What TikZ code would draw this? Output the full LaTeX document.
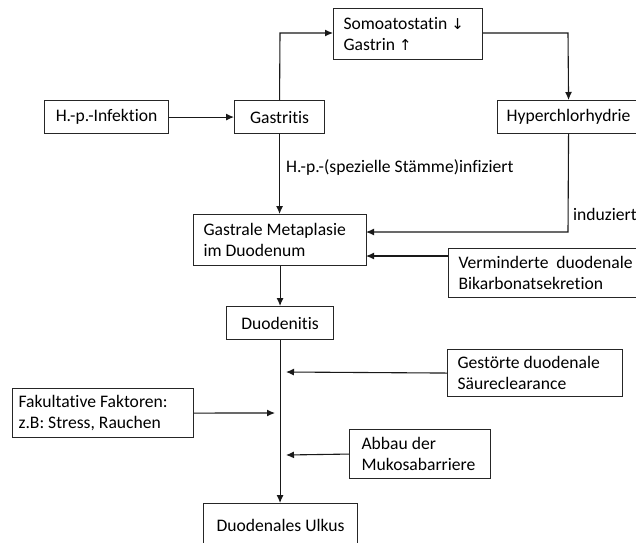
\documentclass[tikz,border=0pt]{standalone}
\usepackage{fontspec}
\setmainfont{Carlito}[Ligatures=NoCommon]
\newfontfamily\symfont{DejaVu Sans}
\usetikzlibrary{arrows.meta}
\tikzset{
  box/.style={draw=black!85, line width=1.1pt, fill=white, inner ysep=0pt,
    font=\fontsize{17.6}{21}\selectfont, anchor=north west},
  lbox/.style={box, align=flush left},
  conn/.style={draw=black!90, line width=1.1pt},
  arr/.style={conn, -{Latex[length=8pt,width=7pt]}},
  lbl/.style={font=\fontsize{17.6}{21}\selectfont, inner sep=0pt, anchor=west}
}
\newcommand{\symarrow}[1]{{\symfont\fontsize{15}{18}\selectfont #1}}
\begin{document}
\begin{tikzpicture}[x=1pt,y=-1pt]
\clip (0,0) rectangle (636,542);
\fill[white] (0,0) rectangle (636,542);

% nodes
\node[lbox, text width=129pt, inner xsep=10pt, minimum height=51pt] (somo) at (333,8)
  {Somoatostatin \symarrow{↓}\\Gastrin \symarrow{↑}};
\node[box, minimum width=124pt, minimum height=33pt, inner xsep=0pt] (hpi) at (44,100) {H.-p.-Infektion};
\node[box, minimum width=90pt, minimum height=33pt, inner xsep=0pt] (gastritis) at (234,100) {Gastritis};
\node[box, minimum width=142pt, minimum height=33pt, inner xsep=0pt] (hyper) at (497,100) {Hyperchlorhydrie};
\node[lbox, text width=153pt, inner xsep=10pt, minimum height=51pt] (gastrale) at (193,214)
  {Gastrale Metaplasie\\im Duodenum};
\node[box, minimum width=107pt, minimum height=33pt, inner xsep=0pt] (duodenitis) at (226,306) {Duodenitis};
\node[lbox, text width=170pt, inner xsep=10pt, minimum height=49pt] (verm) at (448,248)
  {\mbox{Verminderte\hspace{4pt} duodenale}\\Bikarbonatsekretion};
\node[lbox, text width=155pt, inner xsep=10pt, minimum height=47pt] (gest) at (447,349)
  {Gestörte duodenale\\Säureclearance};
\node[lbox, text width=169pt, inner xsep=6pt, minimum height=49pt] (fak) at (12,388)
  {Fakultative Faktoren:\\z.B: Stress, Rauchen};
\node[lbox, text width=117pt, inner xsep=12pt, minimum height=49pt] (abbau) at (349,429)
  {Abbau der\\Mukosabarriere};
\node[box, minimum width=154pt, minimum height=44pt, inner xsep=0pt] (ulkus) at (203,503) {Duodenales Ulkus};

% helper coordinates
\coordinate (c1) at (280,33);
\coordinate (c2) at (568,33);
\coordinate (c3) at (568,232);
\coordinate (c4) at (366,232);
\coordinate (c5) at (366,256);
\coordinate (c6) at (448,256);
\coordinate (t1) at (286,372);
\coordinate (t2) at (275,413);
\coordinate (t3) at (286,455);

% connectors
\draw[arr] (hpi.east) -- (gastritis.west);
\draw[arr] (gastritis.north) -- (c1) -- (somo.west |- c1);
\draw[arr] (somo.east |- c2) -- (c2) -- (hyper.north);
\draw[arr] (gastritis.south) -- (gastritis.south |- gastrale.north);
\draw[arr] (hyper.south) -- (c3) -- (c4);
\draw[arr] (c6) -- (c5);
\draw[arr] (gastrale.south) -- (gastrale.south |- duodenitis.north);
\draw[arr] (duodenitis.south) -- (duodenitis.south |- ulkus.north);
\draw[arr] (gest.west) -- (t1);
\draw[arr] (fak.east) -- (t2);
\draw[arr] (abbau.west) -- (t3);

% labels
\node[lbl] (l1) at (286,167) {H.-p.-(spezielle Stämme)infiziert};
\node[lbl] (l2) at (573,214) {induziert};
\end{tikzpicture}
\end{document}
